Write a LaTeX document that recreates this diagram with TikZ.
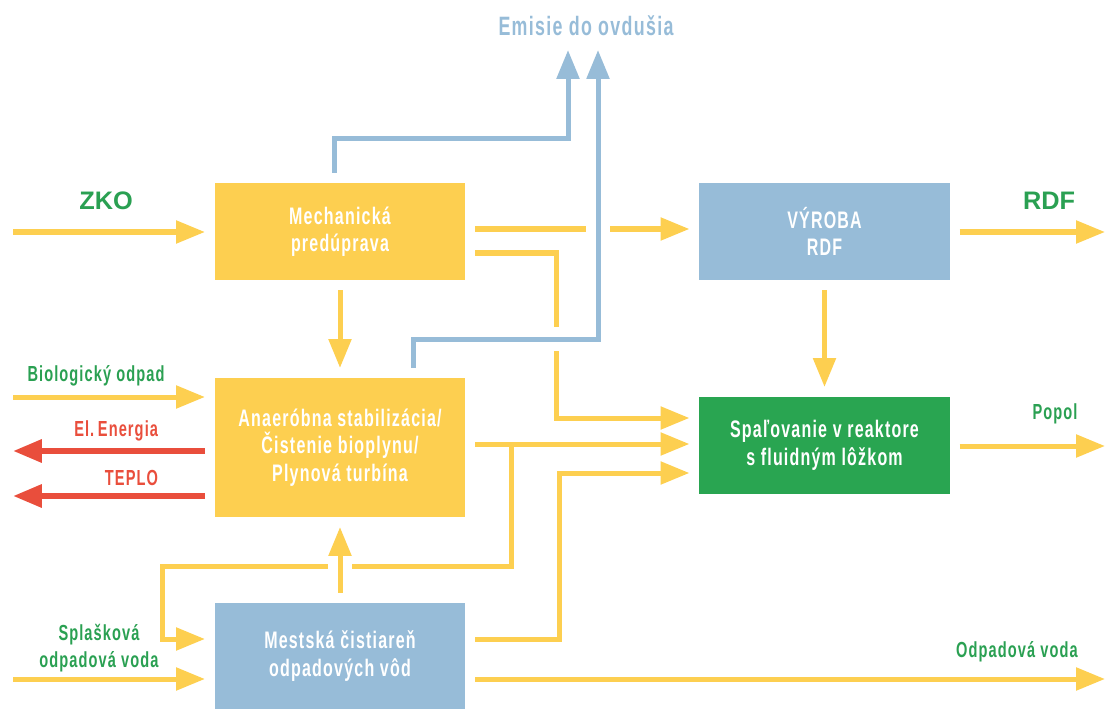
\documentclass[tikz,border=0pt]{standalone}
\usepackage{fontspec}
\setmainfont{Liberation Sans}
\newfontfamily\narrowfont{Liberation Sans}[FakeStretch=0.67, LetterSpace=5]
\usetikzlibrary{arrows.meta}
\definecolor{flowyellow}{HTML}{FDCF50}
\definecolor{emisblue}{HTML}{97BCD8}
\definecolor{boxgreen}{HTML}{29A551}
\definecolor{labelgreen}{HTML}{2AA052}
\definecolor{heatred}{HTML}{E94E3C}

\begin{document}
\begin{tikzpicture}[x=0.025cm, y=-0.025cm,
  proc/.style={minimum width=6.25cm, minimum height=2.425cm, outer sep=0.25cm, align=center,
               text=white, font=\narrowfont\bfseries\fontsize{17}{19.5}\selectfont},
  flow/.style={draw=flowyellow, line width=0.125cm, -{Triangle[length=7.2mm, width=5.5mm]}},
  emis/.style={flow, draw=emisblue},
  heat/.style={flow, draw=heatred, line width=0.15cm},
  gap/.style={preaction={draw=white, line width=0.6cm, -}},
  lbl/.style={font=\narrowfont\bfseries\fontsize{15.5}{19}\selectfont, text=labelgreen, align=center},
  big/.style={font=\bfseries\fontsize{18}{20}\selectfont, text=labelgreen},
]
\useasboundingbox (0,0) rectangle (1105,709);

\node[proc, fill=flowyellow] (mech) at (340,231.5) {Mechanická\\predúprava};
\node[proc, fill=emisblue] (vyr) at (824.5,231.5) {VÝROBA\\RDF};
\node[proc, fill=flowyellow, minimum height=3.475cm] (anae) at (340,447.5)
  {Anaeróbna stabilizácia/\\Čistenie bioplynu/\\Plynová turbína};
\node[proc, fill=boxgreen] (spal) at (824.5,445.5) {Spaľovanie v reaktore\\s fluidným lôžkom};
\node[proc, fill=emisblue, minimum height=2.65cm] (mest) at (340,656) {Mestská čistiareň\\odpadových vôd};

\coordinate (inZKO) at (13,232);
\coordinate (inBio) at (13,397);
\coordinate (outEl) at (13,451);
\coordinate (outTep) at (13,496);
\coordinate (inSpl) at (13,679);
\coordinate (outRDF) at (1105,232);
\coordinate (outPop) at (1105,446);
\coordinate (outVoda) at (1105,679);
\coordinate (em1) at (568,50);
\coordinate (em2) at (598,50);
\coordinate (split) at (511,444);

\node[big] (tZKO) at (106,201) {ZKO};
\node[big] (tRDF) at (1049,201) {RDF};
\node[lbl, text=emisblue, font=\narrowfont\bfseries\fontsize{18.9}{21}\selectfont] (tEmis) at (586,26) {Emisie do ovdušia};
\node[lbl] (tBio) at (96,376) {Biologický odpad};
\node[lbl, text=heatred, anchor=east] (tEl) at (163,431) {El.\,Energia};
\node[lbl, text=heatred, anchor=east] (tTep) at (163,478) {TEPLO};
\node[lbl] (tSpl) at (99,648) {Splašková\\odpadová voda};
\node[lbl] (tPop) at (1055,414) {Popol};
\node[lbl] (tVoda) at (1017,652) {Odpadová voda};

\draw[flow] (inZKO) -- (inZKO -| mech.west);
\draw[flow] (inBio) -- (inBio -| anae.west);
\draw[flow] (inSpl) -- (inSpl -| mest.west);
\draw[flow] (mech.east |- 0,229) -- (vyr.west |- 0,229);
\draw[flow] (mech.east |- 0,253) -| (556,418) -- (spal.west |- 0,418);
\draw[flow] (mech) -- (anae);
\draw[flow] (vyr) -- (spal);
\draw[flow] (vyr.east |- 0,232) -- (outRDF);
\draw[flow] (spal.east |- 0,446) -- (outPop);
\draw[flow] (anae.east |- 0,444) -- (spal.west |- 0,444);
\draw[flow] (split) |- (162,566) |- (mest.west |- 0,639);
\draw[flow, gap] (mest) -- (anae);
\draw[flow] (mest.east |- 0,639) -| (559,473) -- (spal.west |- 0,473);
\draw[flow] (mest.east |- 0,679) -- (outVoda);

\draw[heat] (anae.west |- 0,451) -- (outEl);
\draw[heat] (anae.west |- 0,496) -- (outTep);

\draw[emis] (mech.north -| 334,0) |- (568,139) -- (em1);
\draw[emis, gap] (anae.north -| 413,0) |- (598,339) -- (em2);

\end{tikzpicture}
\end{document}
